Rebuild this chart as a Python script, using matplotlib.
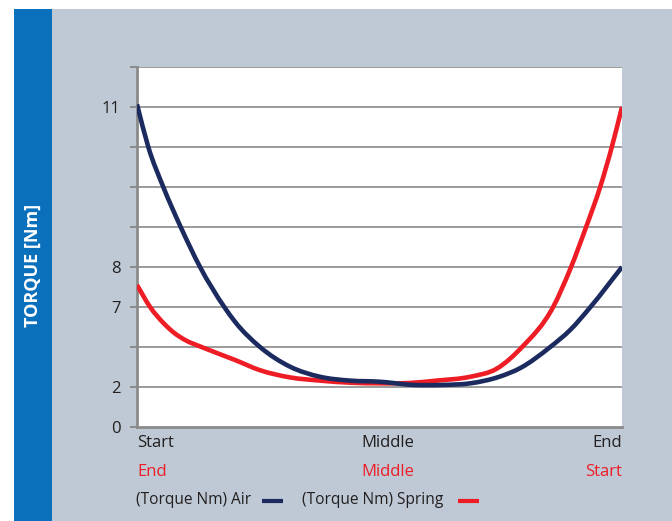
import numpy as np
import matplotlib
matplotlib.use("Agg")
import matplotlib.pyplot as plt
from matplotlib.patches import Rectangle, Circle, PathPatch
from matplotlib.path import Path
from matplotlib.lines import Line2D

# ---------------- data (x: % of travel, y: torque in Nm) ----------------
x_air = [0, 2.33, 5.42, 9.01, 13.0, 18.0, 20.2, 25.36, 31.55, 37.73, 43.9, 50.0,
         57.0, 63.0, 68.7, 74.8, 79.0, 85.2, 89.3, 93.5, 100]
air = [11.05, 10.25, 9.5, 8.75, 8.0, 7.0, 6.08, 4.5, 3.27, 2.64, 2.4, 2.33,
       2.13, 2.13, 2.23, 2.65, 3.18, 4.5, 5.56, 7.0, 8.0]

x_spring = [0, 2.7, 5.77, 7.8, 9.9, 13.3, 20.2, 25.36, 31.55, 37.73, 43.9, 50.0,
            56.0, 61.8, 68.7, 74.2, 79.4, 85.8, 89.5, 92.6, 95.5, 97.9, 100]
spring = [7.55, 7.0, 5.9, 5.35, 4.94, 4.5, 3.69, 3.05, 2.6, 2.4, 2.27, 2.23,
          2.25, 2.4, 2.64, 3.15, 4.5, 7.0, 8.0, 8.75, 9.5, 10.25, 11.0]

y_ticks = [0, 2, 7, 8, 11]
y_grid = [2, 4.5, 7, 8, 8.75, 9.5, 10.25, 11, 11.75]
x_labels_air = ["Start", "Middle", "End"]
x_labels_spring = ["End", "Middle", "Start"]
legend_labels = ["(Torque Nm) Air", "(Torque Nm) Spring"]
y_title = "TORQUE [Nm]"

# piecewise-linear (non-uniform) value axis of the original graphic
nm_knots = [0, 2, 7, 8, 11.75]
pos_knots = [0, 1, 3, 4, 9]

def fwd(v):
    return np.interp(v, nm_knots, pos_knots)

def inv(p):
    return np.interp(p, pos_knots, nm_knots)


def smooth_path(xs, ys):
    """Smoothed line (cubic Hermite as Bezier) through the data points,
    built in the axis' scaled space so the curve is smooth on screen."""
    x = np.asarray(xs, float)
    p = fwd(np.asarray(ys, float))
    h = np.diff(x)
    d = np.diff(p) / h
    m = np.empty_like(p)
    m[1:-1] = (h[1:] * d[:-1] + h[:-1] * d[1:]) / (h[:-1] + h[1:])
    m[0], m[-1] = d[0], d[-1]
    verts = [(x[0], p[0])]
    codes = [Path.MOVETO]
    for i in range(len(h)):
        verts += [(x[i] + h[i] / 3, p[i] + m[i] * h[i] / 3),
                  (x[i + 1] - h[i] / 3, p[i + 1] - m[i + 1] * h[i] / 3),
                  (x[i + 1], p[i + 1])]
        codes += [Path.CURVE4] * 3
    verts = np.array(verts)
    verts[:, 1] = inv(verts[:, 1])
    return Path(verts, codes)


# ---------------- styling ----------------
plt.rcParams['font.family'] = ['Open Sans', 'DejaVu Sans']
W, H = 672, 521
fig = plt.figure(figsize=(W / 100, H / 100), dpi=100)
fig.patch.set_facecolor('white')

PANEL = '#bec9d5'
BAR = '#0b70bb'
NAVY = '#1c2b5f'
RED = '#ee1d25'
TXT = '#231f20'
GRID = '#9b9b9b'

# background panel and blue bar
fig.patches.append(Rectangle((14 / W, 0), 1 - 14 / W, (H - 9) / H,
                             transform=fig.transFigure, facecolor=PANEL,
                             edgecolor='none', zorder=-3))
fig.patches.append(Rectangle((14 / W, 0), 38 / W, (H - 9) / H,
                             transform=fig.transFigure, facecolor=BAR,
                             edgecolor='none', zorder=-2))
# faint decorative sketch at top
fig.patches.append(Circle((507 / W, (H + 40) / H), 50 / W, transform=fig.transFigure,
                          facecolor='none', edgecolor='#d0d0d0', lw=0.8, zorder=-2.5))

fig.text(33 / W, 1 - 265 / H, y_title, rotation=90, color='white',
         fontsize=13, fontweight='bold', ha='center', va='center', zorder=2)

ax = fig.add_axes([137 / W, 1 - 427 / H, (622 - 137) / W, 360 / H])
ax.set_zorder(1)
ax.set_facecolor('white')
ax.set_yscale('function', functions=(fwd, inv))
ax.set_ylim(0, 11.75)
ax.set_xlim(0, 100)

for g in y_grid:
    ax.axhline(g, color=GRID, lw=1.4, zorder=1)

for xs, ys, col in [(x_spring, spring, RED), (x_air, air, NAVY)]:
    ax.add_patch(PathPatch(smooth_path(xs, ys), facecolor='none', edgecolor=col,
                           lw=3.3, capstyle='butt', joinstyle='round', zorder=3))

for s in ['top', 'right']:
    ax.spines[s].set_visible(False)
for s in ['left', 'bottom']:
    ax.spines[s].set_color('#8a8a8a')
    ax.spines[s].set_linewidth(2)

ax.set_xticks([])
ax.set_yticks([0] + y_grid)
ax.set_yticklabels([str(v) if v in y_ticks else '' for v in [0] + y_grid])
ax.tick_params(axis='y', length=5, width=1.4, color='#8a8a8a', labelsize=12,
               labelcolor=TXT, pad=7)

# category labels under the axis
xpos = [0, 51.8, 100]
has = ['left', 'center', 'right']
for xp, ha, la, ls in zip(xpos, has, x_labels_air, x_labels_spring):
    ax.annotate(la, xy=(xp, H - 443), xycoords=('data', 'figure pixels'),
                ha=ha, va='center', fontsize=12, color=TXT, annotation_clip=False)
    ax.annotate(ls, xy=(xp, H - 472), xycoords=('data', 'figure pixels'),
                ha=ha, va='center', fontsize=12, color=RED, annotation_clip=False)

# legend row: label followed by a short line sample
leg_y = 1 - 500 / H
for lab, col, tx, lx0, lx1 in [(legend_labels[0], NAVY, 136, 262, 283),
                                (legend_labels[1], RED, 302, 458, 479)]:
    fig.text(tx / W, leg_y, lab, fontsize=11.2, color=TXT, ha='left', va='center')
    fig.add_artist(Line2D([lx0 / W, lx1 / W], [leg_y - 1 / H, leg_y - 1 / H],
                          transform=fig.transFigure, color=col, lw=3,
                          solid_capstyle='butt'))

fig.savefig('out.png', dpi=100, facecolor='white')
